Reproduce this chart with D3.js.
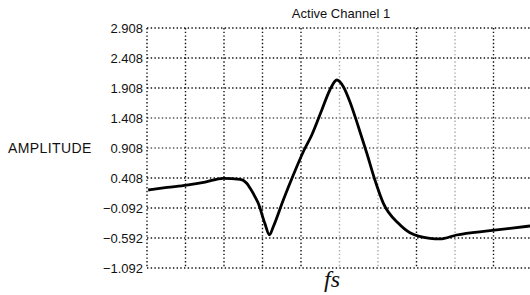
<!DOCTYPE html>
<html>
<head>
<meta charset="utf-8">
<title>Active Channel 1</title>
<script src="https://cdn.jsdelivr.net/npm/d3@7"></script>
<style>
  body { margin: 0; background: #fff; }
  svg text { font-family: "Liberation Sans", Arial, sans-serif; fill: #111; }
</style>
</head>
<body>
<svg id="chart" width="530" height="295"></svg>
<script>
// amplitude tick labels, bottom to top
var yTicks = [-1.092, -0.592, -0.092, 0.408, 0.908, 1.408, 1.908, 2.408, 2.908];
// grid columns (time divisions), the last ones run off the right edge
var xCols = [0, 1, 2, 3, 4, 5, 6, 7, 8, 9, 10];
// trace: x in divisions, y amplitude
var traceX = [0.03, 0.52, 1.03, 1.51, 1.98, 2.42, 2.59, 2.68, 2.81, 2.89, 3.06, 3.18, 3.28, 3.54, 3.80, 4.06, 4.28, 4.54, 4.75, 4.93, 5.10, 5.27, 5.49, 5.71, 5.92, 6.14, 6.53, 6.83, 7.35, 7.61, 8.04, 8.91, 9.95];
var traceY = [0.208, 0.25, 0.291, 0.341, 0.403, 0.386, 0.32, 0.236, 0.091, -0.014, -0.347, -0.54, -0.404, 0.041, 0.458, 0.846, 1.125, 1.541, 1.875, 2.041, 1.93, 1.68, 1.263, 0.82, 0.375, -0.014, -0.347, -0.504, -0.597, -0.608, -0.542, -0.47, -0.392];

var svg = d3.select("#chart");
var plotL = 147, plotT = 28, colW = 38.5, plotH = 240;

var x = d3.scaleLinear().domain([0, 10]).range([plotL, plotL + 10 * colW]);
var y = d3.scaleLinear().domain([-1.092, 2.908]).range([plotT + plotH, plotT]);

var dots = "1.4,2.3";
var faint = [5, 6, 8];

// horizontal grid
svg.append("g").selectAll("line").data(yTicks).join("line")
  .attr("x1", x(0)).attr("x2", 530)
  .attr("y1", function(d) { return y(d); })
  .attr("y2", function(d) { return y(d); })
  .attr("stroke", function(d, i) { return (i == 4 || i == 5) ? "#555" : "#111"; })
  .attr("stroke-width", 1.4)
  .attr("stroke-dasharray", dots);

// vertical grid
svg.append("g").selectAll("line").data(xCols).join("line")
  .attr("x1", function(d) { return x(d); })
  .attr("x2", function(d) { return x(d); })
  .attr("y1", y(2.908)).attr("y2", y(-1.092))
  .attr("stroke", function(d) { return faint.indexOf(d) >= 0 ? "#aaa" : "#111"; })
  .attr("stroke-width", 1.4)
  .attr("stroke-dasharray", dots);

// y tick labels
svg.append("g").selectAll("text").data(yTicks).join("text")
  .attr("x", 143)
  .attr("y", function(d) { return y(d) + 4.5; })
  .attr("text-anchor", "end")
  .style("font-size", "13px")
  .text(function(d) { return d3.format(".3f")(d); });

svg.append("text")
  .attr("x", 8).attr("y", y(0.908) + 5)
  .style("font-size", "14px")
  .style("letter-spacing", "0.4px")
  .text("AMPLITUDE");

svg.append("text")
  .attr("x", 341).attr("y", 18)
  .attr("text-anchor", "middle")
  .style("font-size", "13px")
  .text("Active Channel 1");

svg.append("text")
  .attr("x", 332).attr("y", 287)
  .attr("text-anchor", "middle")
  .style("font-family", "'Liberation Serif', 'DejaVu Serif', serif")
  .style("font-style", "italic")
  .style("font-size", "24px")
  .text("fs");

// trace
var pts = traceX.map(function(d, i) { return [d, traceY[i]]; });
var line = d3.line()
  .x(function(d) { return x(d[0]); })
  .y(function(d) { return y(d[1]); })
  .curve(d3.curveMonotoneX);

svg.append("path")
  .datum(pts)
  .attr("d", line)
  .attr("fill", "none")
  .attr("stroke", "#000")
  .attr("stroke-width", 2.8)
  .attr("stroke-linejoin", "round");
</script>
</body>
</html>
